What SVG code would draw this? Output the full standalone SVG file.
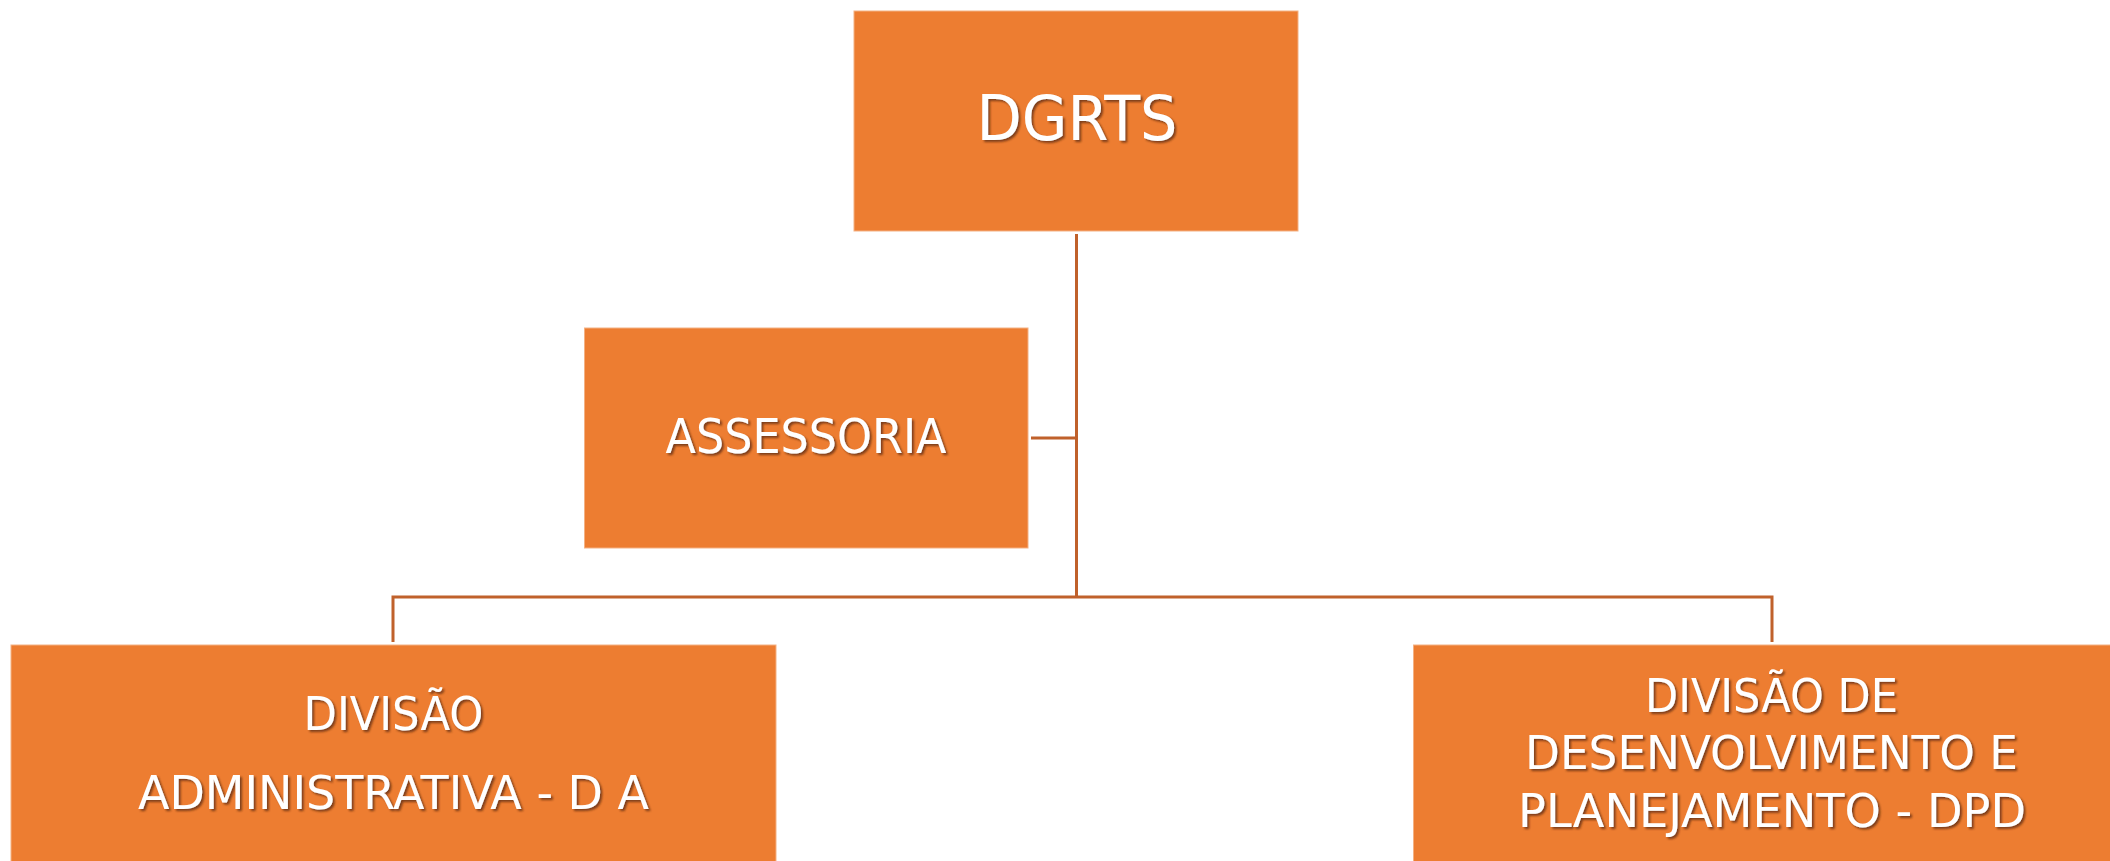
<svg xmlns="http://www.w3.org/2000/svg" width="2110" height="861" viewBox="0 0 2110 861">
  <defs>
    <filter id="shadow" x="-10%" y="-30%" width="120%" height="160%">
      <feDropShadow dx="2" dy="2" stdDeviation="1" flood-color="#5a2a08" flood-opacity="0.75"/>
    </filter>
    <style>
      .box { fill: #ED7D31; stroke: #F4B183; stroke-width: 1; }
      .lbl { fill: #ffffff; font-family: "DejaVu Sans", "Liberation Sans", sans-serif; text-anchor: middle; filter: url(#shadow); }
      .cond { font-family: "DejaVu Sans Condensed", "DejaVu Sans", sans-serif; font-stretch: condensed; }
      .conn { stroke: #C0612B; stroke-width: 3; fill: none; }
    </style>
  </defs>

  <rect width="2110" height="861" fill="#ffffff"/>

  <!-- connectors -->
  <g id="connectors">
    <line class="conn" x1="1076.5" y1="234" x2="1076.5" y2="597"/>
    <line class="conn" x1="1031" y1="438" x2="1076.5" y2="438"/>
    <polyline class="conn" points="393,642 393,597 1772,597 1772,642"/>
  </g>

  <!-- director -->
  <g id="dgrts">
    <rect class="box" x="854" y="11" width="444" height="220"/>
    <text class="lbl" x="1077" y="140" font-size="62" textLength="201" lengthAdjust="spacingAndGlyphs">DGRTS</text>
  </g>

  <!-- advisory -->
  <g id="assessoria">
    <rect class="box" x="584.5" y="328" width="443.5" height="220"/>
    <text class="lbl" x="806" y="453" font-size="48" textLength="281" lengthAdjust="spacingAndGlyphs">ASSESSORIA</text>
  </g>

  <!-- administrative division -->
  <g id="divisao-administrativa">
    <rect class="box" x="11" y="645" width="765" height="230"/>
    <text class="lbl cond" x="393.5" y="730" font-size="46" textLength="180" lengthAdjust="spacingAndGlyphs">DIVISÃO</text>
    <text class="lbl cond" x="393.5" y="809" font-size="46" textLength="511" lengthAdjust="spacingAndGlyphs">ADMINISTRATIVA - D A</text>
  </g>

  <!-- development and planning division -->
  <g id="divisao-dpd">
    <rect class="box" x="1413.5" y="645" width="720" height="230"/>
    <text class="lbl cond" x="1771.5" y="712" font-size="46" textLength="253" lengthAdjust="spacingAndGlyphs">DIVISÃO DE</text>
    <text class="lbl cond" x="1771.5" y="769" font-size="46" textLength="493" lengthAdjust="spacingAndGlyphs">DESENVOLVIMENTO E</text>
    <text class="lbl cond" x="1772" y="827" font-size="46" textLength="508" lengthAdjust="spacingAndGlyphs">PLANEJAMENTO - DPD</text>
  </g>
</svg>
